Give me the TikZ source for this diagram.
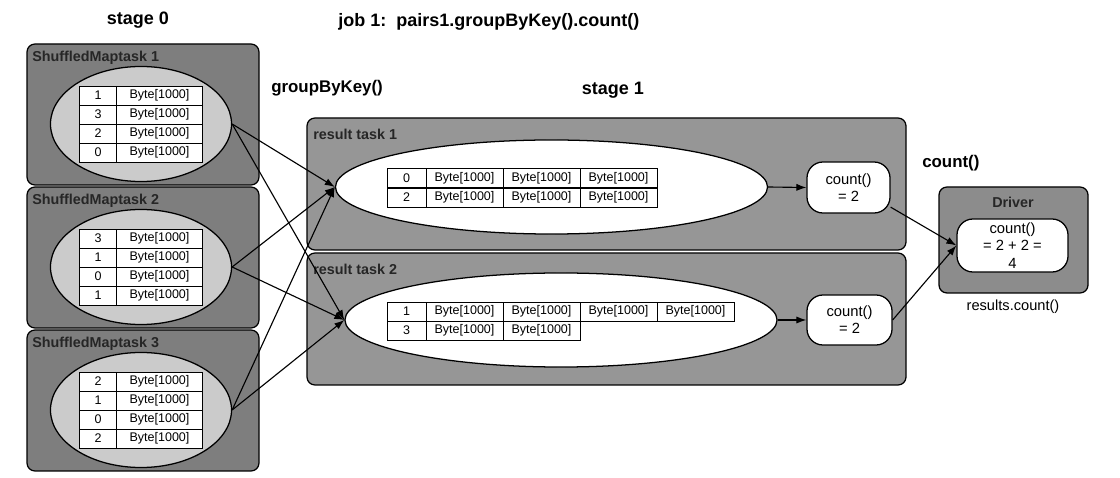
\documentclass[tikz,border=0pt]{standalone}
\usepackage{fontspec}
\setmainfont{Liberation Sans}
\usepackage{xcolor}
\usepackage{tikz}
\usetikzlibrary{shapes.geometric,arrows.meta}
\definecolor{mapgray}{HTML}{7E7E7E}
\definecolor{resgray}{HTML}{969696}
\definecolor{drvgray}{HTML}{8C8C8C}
\definecolor{ellgray}{HTML}{CBCBCB}

\begin{document}
\begin{tikzpicture}[x=0.025cm,y=-0.025cm,
		title/.style={font=\fontsize{12.8}{14}\selectfont\bfseries},
		opname/.style={anchor=west,inner sep=0pt,font=\fontsize{12}{14}\selectfont\bfseries},
		boxlabel/.style={anchor=west,inner sep=0pt,text=black!85,font=\fontsize{10.2}{12}\selectfont\bfseries},
		cell/.style={draw,fill=white,line width=0.7pt,inner sep=0pt,minimum height=0.475cm,font=\fontsize{8.9}{10}\selectfont},
		mapbox/.style={draw,fill=mapgray,line width=0.9pt,rounded corners=0.2cm},
		resbox/.style={draw,fill=resgray,line width=0.9pt,rounded corners=0.2cm},
		mapell/.style={ellipse,draw,fill=ellgray,line width=0.9pt,inner sep=0pt,minimum width=4.525cm,minimum height=2.875cm},
		resell/.style={ellipse,draw,fill=white,line width=0.9pt,inner sep=0pt,minimum width=10.8cm,minimum height=2.35cm},
		cntbox/.style={draw,fill=white,line width=0.9pt,rounded corners=0.4cm,align=center,inner sep=0pt,font=\fontsize{10.5}{12.2}\selectfont},
		flow/.style={-{Latex[length=2.5mm,width=1.8mm]},line width=0.8pt}]
	\useasboundingbox (0,0) rectangle (1120,478);
	
	% titles
	\node[title] (s0) at (138,20) {stage 0};
	\node[title,anchor=west,inner sep=0pt] (job) at (338,22) {job 1:\ \ pairs1.groupByKey().count()};
	\node[title] (s1) at (613,90) {stage 1};
	\node[opname] (gbk) at (271,88) {groupByKey()};
	\node[opname] (cnt) at (922,163) {count()};
	
	% stage 0 (left)
	\foreach \i/\t/\keys in
	{1/44/{1,3,2,0}, 2/187/{3,1,0,1}, 3/330/{2,1,0,2}}{
		\draw[mapbox] (27,\t) rectangle ++(232,141);
		\node[boxlabel] (ml\i) at (32,\t+14) {ShuffledMaptask \i};
		\node[mapell] (m\i) at (141,\t+80) {};
		\foreach \k [count=\r] in \keys{
			\node[cell,minimum width=0.95cm] (mk\i\r) at (98,\t+32.5+19*\r) {\k};
			\node[cell,minimum width=2.125cm] (mb\i\r) at (159.5,\t+32.5+19*\r) {Byte[1000]};
		}
	}
	
	% stage 1 (middle)
	\foreach \j/\t/\cx/\cy in
	{1/118/551.5/187, 2/253/561/320}{
		\draw[resbox] (307,\t) rectangle (906,\t+132);
		\node[boxlabel] (rl\j) at (313,\t+16) {result task \j};
		\node[resell] (r\j) at (\cx,\cy) {};
	}
	\foreach \j/\r/\y/\k/\n in
	{1/1/178/0/3, 1/2/197.5/2/3, 2/1/311.5/1/4, 2/2/330.5/3/2}{
		\node[cell,minimum width=0.975cm] (rk\j\r) at (406.5,\y) {\k};
		\foreach \c in {1,...,\n}{
			\node[cell,minimum width=1.925cm] (rb\j\r\c) at (426+77*\c-38.5,\y) {Byte[1000]};
		}
	}
	\node[cntbox,minimum width=2.075cm,minimum height=1.275cm] (c1) at (848.5,187.5) {count()\\= 2};
	\node[cntbox,minimum width=2.125cm,minimum height=1.25cm] (c2) at (849.5,320) {count()\\= 2};
	
	% driver (right)
	\draw[mapbox,fill=drvgray] (939,187) rectangle (1088,293);
	\node[boxlabel,anchor=center] (dl) at (1013,202) {Driver};
	\node[cntbox,minimum width=2.775cm,minimum height=1.325cm] (d) at (1012.5,245.5) {count()\\= 2 + 2 =\\4};
	\node[font=\fontsize{10.4}{12}\selectfont] (res) at (1013,307) {results.count()};
	
	\foreach \a in {1,2,3}{
		\foreach \b in {1,2}{
			\draw[flow] (m\a.east) -- (r\b.west);
		}
	}
	\draw[flow] (r1.east) -- (c1.west);
	\draw[flow] (r2.east) -- (c2.west);
	\draw[flow] (c1.-25) -- (d.west);
	\draw[flow] (c2.east) -- (d.west);
\end{tikzpicture}
\end{document}
